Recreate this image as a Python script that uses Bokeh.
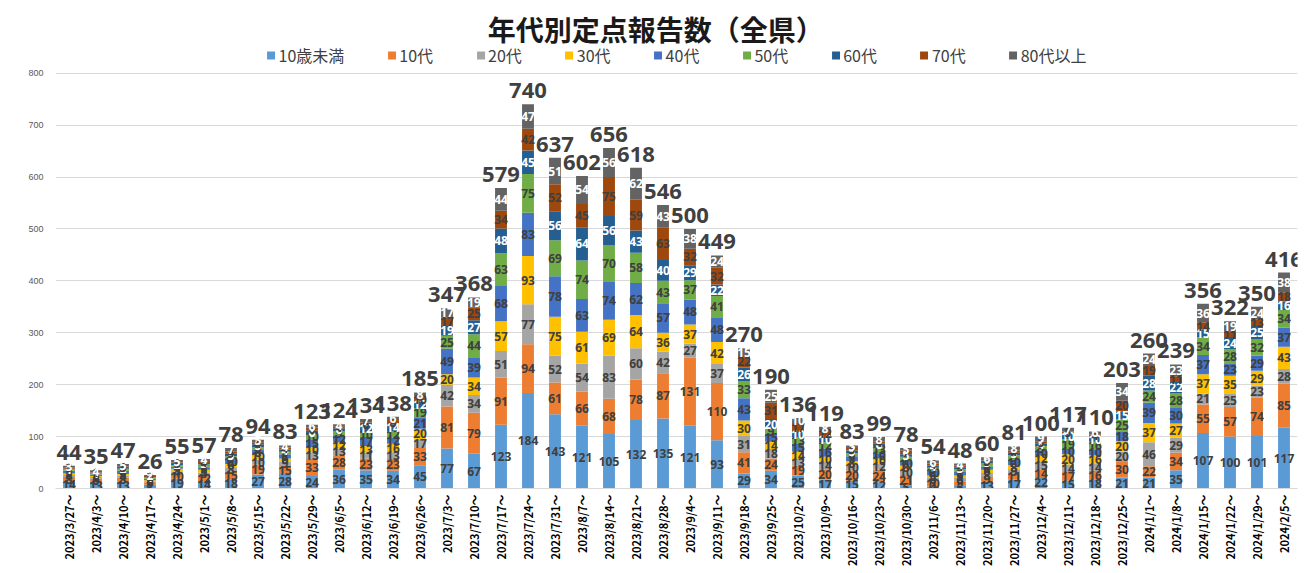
import math
from bokeh.plotting import figure
from bokeh.models import (ColumnDataSource, Legend, LegendItem, FactorRange,
                          Range1d, FixedTicker, Label)
from bokeh.core.properties import value
from bokeh.embed import file_html
from bokeh.resources import INLINE

weeks = ["2023/3/27～", "2023/4/3～", "2023/4/10～", "2023/4/17～", "2023/4/24～",
         "2023/5/1～", "2023/5/8～", "2023/5/15～", "2023/5/22～", "2023/5/29～",
         "2023/6/5～", "2023/6/12～", "2023/6/19～", "2023/6/26～", "2023/7/3～",
         "2023/7/10～", "2023/7/17～", "2023/7/24～", "2023/7/31～", "2023/8/7～",
         "2023/8/14～", "2023/8/21～", "2023/8/28～", "2023/9/4～", "2023/9/11～",
         "2023/9/18～", "2023/9/25～", "2023/10/2～", "2023/10/9～", "2023/10/16～",
         "2023/10/23～", "2023/10/30～", "2023/11/6～", "2023/11/13～", "2023/11/20～",
         "2023/11/27～", "2023/12/4～", "2023/12/11～", "2023/12/18～", "2023/12/25～",
         "2024/1/1～", "2024/1/8～", "2024/1/15～", "2024/1/22～", "2024/1/29～",
         "2024/2/5～"]

under10 = [14, 13, 13, 7, 19, 14, 18, 27, 28, 24, 36, 35, 34, 45, 77, 67, 123, 184, 143, 121,
           105, 132, 135, 121, 93, 29, 34, 25, 17, 15, 12, 5, 4, 5, 13, 17, 22, 15, 18, 21,
           21, 35, 107, 100, 101, 117]
teens = [8, 6, 8, 5, 10, 12, 15, 19, 15, 33, 28, 23, 23, 33, 81, 79, 91, 94, 61, 66,
         68, 78, 87, 131, 110, 41, 24, 19, 20, 20, 24, 21, 10, 9, 9, 11, 14, 17, 16, 30,
         22, 34, 55, 57, 74, 85]
twenties = [4, 3, 4, 2, 4, 5, 8, 10, 9, 13, 13, 11, 13, 17, 42, 34, 51, 77, 52, 54,
            83, 60, 42, 27, 37, 31, 18, 13, 14, 10, 12, 10, 6, 6, 8, 9, 15, 14, 14, 20,
            46, 29, 21, 25, 23, 28]
thirties = [3, 2, 3, 2, 5, 5, 6, 10, 6, 10, 12, 13, 16, 20, 20, 34, 57, 93, 75, 61,
            69, 64, 36, 37, 42, 30, 14, 14, 10, 8, 10, 8, 5, 5, 6, 8, 12, 20, 16, 20,
            37, 27, 37, 35, 29, 43]
forties = [5, 3, 6, 3, 4, 5, 10, 8, 8, 15, 12, 17, 12, 21, 49, 39, 68, 83, 78, 63,
           74, 62, 57, 48, 48, 43, 15, 15, 16, 9, 10, 10, 10, 8, 6, 10, 10, 10, 10, 18,
           39, 30, 37, 23, 29, 37]
fifties = [3, 2, 3, 2, 3, 5, 5, 6, 5, 10, 9, 10, 12, 19, 25, 44, 63, 75, 69, 74,
           70, 58, 43, 37, 41, 33, 9, 13, 12, 6, 13, 7, 5, 4, 6, 9, 9, 19, 16, 25,
           24, 28, 34, 28, 32, 34]
sixties = [1, 1, 2, 1, 2, 3, 5, 5, 4, 6, 6, 12, 14, 12, 19, 27, 48, 45, 56, 64,
           56, 43, 40, 29, 22, 26, 20, 10, 10, 5, 6, 5, 4, 3, 3, 5, 4, 10, 10, 15,
           28, 22, 15, 24, 25, 16]
seventies = [3, 1, 3, 2, 3, 4, 4, 4, 4, 6, 4, 6, 8, 10, 17, 25, 34, 42, 52, 45,
             75, 59, 63, 32, 32, 22, 31, 17, 12, 5, 4, 7, 4, 4, 3, 4, 5, 5, 4, 20,
             19, 11, 14, 11, 13, 18]
eighties = [3, 4, 5, 2, 5, 4, 7, 5, 4, 6, 4, 7, 6, 8, 17, 19, 44, 47, 51, 54,
            56, 62, 43, 38, 24, 15, 25, 10, 8, 5, 8, 5, 6, 4, 6, 8, 9, 7, 6, 34,
            24, 23, 36, 19, 24, 38]

series_names = ["10歳未満", "10代", "20代", "30代", "40代", "50代", "60代", "70代", "80代以上"]
series_values = [under10, teens, twenties, thirties, forties, fifties, sixties, seventies, eighties]
colors = ["#5B9BD5", "#ED7D31", "#A5A5A5", "#FFC000", "#4472C4",
          "#70AD47", "#255E91", "#9E480E", "#636363"]
label_colors = ["#404040", "#404040", "#404040", "#404040", "#404040",
                "#404040", "#FFFFFF", "#404040", "#FFFFFF"]
y_ticks = [0, 100, 200, 300, 400, 500, 600, 700, 800]
title_text = "年代別定点報告数（全県）"

keys = ["s%d" % i for i in range(len(series_names))]
data = {"week": weeks}
for k, v in zip(keys, series_values):
    data[k] = v
src = ColumnDataSource(data)

p = figure(x_range=FactorRange(*weeks), y_range=Range1d(0, 940),
           width=1310, height=571, output_backend="svg", toolbar_location=None,
           min_border_left=55, min_border_right=13, min_border_top=0,
           min_border_bottom=83)
p.outline_line_color = None
p.background_fill_color = "white"

renderers = p.vbar_stack(keys, x="week", width=0.44, color=colors, source=src,
                         line_color=None)

# segment labels
sx, sy, st, sc = [], [], [], []
for i, w in enumerate(weeks):
    base = 0
    for j, vals in enumerate(series_values):
        v = vals[i]
        sx.append(w)
        sy.append(base + v / 2)
        st.append(str(v))
        sc.append(label_colors[j])
        base += v
seg_src = ColumnDataSource(dict(x=sx, y=sy, t=st, c=sc))
p.text(x="x", y="y", text="t", source=seg_src, text_color="c",
       text_font=value("Noto Sans"), text_font_style="bold", text_font_size="12px",
       text_align="center", text_baseline="middle")

# totals
totals = [sum(vals[i] for vals in series_values) for i in range(len(weeks))]
tot_src = ColumnDataSource(dict(x=weeks, y=totals, t=[str(t) for t in totals]))
p.text(x="x", y="y", text="t", source=tot_src, text_color="#404040",
       text_font=value("Noto Sans"), text_font_style="bold", text_font_size="22px",
       text_align="center", text_baseline="bottom", y_offset=-6)

# axes / grid
p.xgrid.grid_line_color = None
p.ygrid.grid_line_color = "#D9D9D9"
p.yaxis.ticker = FixedTicker(ticks=y_ticks)
p.yaxis.axis_line_color = None
p.yaxis.major_tick_line_color = None
p.yaxis.minor_tick_line_color = None
p.yaxis.major_tick_out = 0
p.yaxis.major_tick_in = 0
p.yaxis.major_label_text_font_size = "9px"
p.yaxis.major_label_text_color = "#595959"
p.yaxis.major_label_standoff = 12
p.xaxis.axis_line_color = "#D9D9D9"
p.xaxis.major_tick_line_color = None
p.xaxis.minor_tick_line_color = None
p.xaxis.major_tick_out = 0
p.xaxis.major_tick_in = 0
p.xaxis.major_label_orientation = math.pi / 2
p.xaxis.major_label_text_font = "Noto Sans CJK JP"
p.xaxis.major_label_text_font_style = "bold"
p.xaxis.major_label_text_font_size = "11px"
p.xaxis.major_label_text_color = "#000000"
p.xaxis.major_label_standoff = 6
p.x_range.range_padding = 0
p.x_range.group_padding = 0

legend = Legend(items=[LegendItem(label=n, renderers=[r]) for n, r in zip(series_names, renderers)],
                orientation="horizontal", location="top",
                label_text_font="Noto Sans CJK JP", label_text_font_size="16px",
                label_text_color="#404040", glyph_width=10, glyph_height=10,
                label_standoff=3, spacing=42, padding=0, margin=43,
                border_line_color=None, background_fill_alpha=0, label_height=16)
p.add_layout(legend)

title = Label(x=22.23, y=885, text=title_text, text_align="center", text_baseline="middle",
              text_font="Noto Sans CJK JP", text_font_size="28px", text_font_style="bold",
              text_color="#1A1A1A")
p.add_layout(title)

open("out.html", "w").write(file_html(p, INLINE))
